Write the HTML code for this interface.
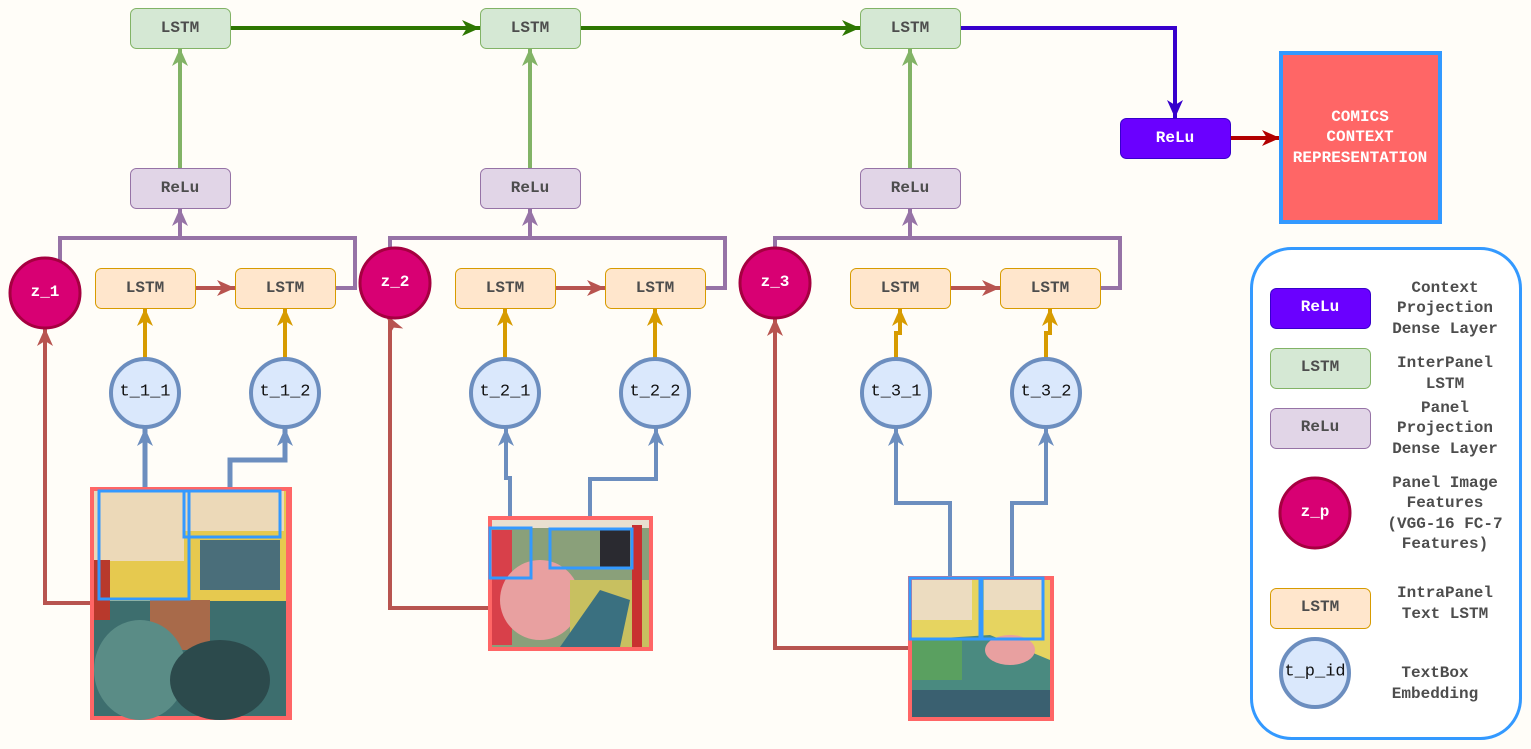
<!DOCTYPE html>
<html><head><meta charset="utf-8"><style>
html,body{margin:0;padding:0;background:#fffdf8;}
svg{display:block;}
.b{font-family:"Liberation Mono",monospace;font-weight:bold;font-size:16px;fill:#4d4d4d;text-anchor:middle;dominant-baseline:central;}
.w{fill:#fff;}
.t{font-family:"Liberation Mono",monospace;font-size:17px;fill:#111;text-anchor:middle;dominant-baseline:central;}
.lg{font-family:"Liberation Mono",monospace;font-weight:bold;font-size:16px;fill:#4d4d4d;text-anchor:middle;}
</style></head><body>
<svg width="1531" height="749" viewBox="0 0 1531 749" xmlns="http://www.w3.org/2000/svg">
<defs>
<marker id="mg" markerUnits="userSpaceOnUse" markerWidth="20" markerHeight="20" refX="18" refY="10" orient="auto"><path d="M0,2 L18,10 L0,18 L5,10 z" fill="#2d7600"/></marker>
<marker id="ml" markerUnits="userSpaceOnUse" markerWidth="20" markerHeight="20" refX="18" refY="10" orient="auto"><path d="M0,2 L18,10 L0,18 L5,10 z" fill="#82b366"/></marker>
<marker id="mp" markerUnits="userSpaceOnUse" markerWidth="20" markerHeight="20" refX="18" refY="10" orient="auto"><path d="M0,2 L18,10 L0,18 L5,10 z" fill="#9673a6"/></marker>
<marker id="mv" markerUnits="userSpaceOnUse" markerWidth="20" markerHeight="20" refX="18" refY="10" orient="auto"><path d="M0,2 L18,10 L0,18 L5,10 z" fill="#3700cc"/></marker>
<marker id="mr" markerUnits="userSpaceOnUse" markerWidth="20" markerHeight="20" refX="18" refY="10" orient="auto"><path d="M0,2 L18,10 L0,18 L5,10 z" fill="#b20000"/></marker>
<marker id="mb" markerUnits="userSpaceOnUse" markerWidth="20" markerHeight="20" refX="18" refY="10" orient="auto"><path d="M0,2 L18,10 L0,18 L5,10 z" fill="#b85450"/></marker>
<marker id="mo" markerUnits="userSpaceOnUse" markerWidth="20" markerHeight="20" refX="18" refY="10" orient="auto"><path d="M0,2 L18,10 L0,18 L5,10 z" fill="#d79b00"/></marker>
<marker id="mt" markerUnits="userSpaceOnUse" markerWidth="20" markerHeight="20" refX="18" refY="10" orient="auto"><path d="M0,2 L18,10 L0,18 L5,10 z" fill="#6c8ebf"/></marker>
</defs>

<line x1="230" y1="28" x2="480" y2="28" stroke="#2d7600" stroke-width="4" marker-end="url(#mg)"/>
<line x1="580" y1="28" x2="860" y2="28" stroke="#2d7600" stroke-width="4" marker-end="url(#mg)"/>
<path d="M960,28 H1175 V118" fill="none" stroke="#3700cc" stroke-width="4" marker-end="url(#mv)"/>
<line x1="1230" y1="138" x2="1280" y2="138" stroke="#b20000" stroke-width="4" marker-end="url(#mr)"/>

<line x1="180" y1="168" x2="180" y2="48" stroke="#82b366" stroke-width="4" marker-end="url(#ml)"/>
<line x1="530" y1="168" x2="530" y2="48" stroke="#82b366" stroke-width="4" marker-end="url(#ml)"/>
<line x1="910" y1="168" x2="910" y2="48" stroke="#82b366" stroke-width="4" marker-end="url(#ml)"/>

<path d="M60,262 V238 H355 V288 H335" fill="none" stroke="#9673a6" stroke-width="4"/>
<line x1="180" y1="238" x2="180" y2="208" stroke="#9673a6" stroke-width="4" marker-end="url(#mp)"/>
<path d="M390,250 V238 H725 V288 H705" fill="none" stroke="#9673a6" stroke-width="4"/>
<line x1="530" y1="238" x2="530" y2="208" stroke="#9673a6" stroke-width="4" marker-end="url(#mp)"/>
<path d="M775,250 V238 H1120 V288 H1100" fill="none" stroke="#9673a6" stroke-width="4"/>
<line x1="910" y1="238" x2="910" y2="208" stroke="#9673a6" stroke-width="4" marker-end="url(#mp)"/>

<rect x="130.5" y="8.5" width="100" height="40" rx="6" fill="#d5e8d4" stroke="#82b366"/><text class="b" x="180" y="28">LSTM</text>
<rect x="480.5" y="8.5" width="100" height="40" rx="6" fill="#d5e8d4" stroke="#82b366"/><text class="b" x="530" y="28">LSTM</text>
<rect x="860.5" y="8.5" width="100" height="40" rx="6" fill="#d5e8d4" stroke="#82b366"/><text class="b" x="910" y="28">LSTM</text>
<rect x="130.5" y="168.5" width="100" height="40" rx="6" fill="#e1d5e7" stroke="#9673a6"/><text class="b" x="180" y="188">ReLu</text>
<rect x="480.5" y="168.5" width="100" height="40" rx="6" fill="#e1d5e7" stroke="#9673a6"/><text class="b" x="530" y="188">ReLu</text>
<rect x="860.5" y="168.5" width="100" height="40" rx="6" fill="#e1d5e7" stroke="#9673a6"/><text class="b" x="910" y="188">ReLu</text>
<rect x="1120.5" y="118.5" width="110" height="40" rx="6" fill="#6a00ff" stroke="#3700cc"/><text class="b w" x="1175" y="138">ReLu</text>
<rect x="1281" y="53" width="159" height="169" fill="#ff6666" stroke="#3399ff" stroke-width="4"/>
<text class="b w" x="1360" y="117">COMICS</text><text class="b w" x="1360" y="137">CONTEXT</text><text class="b w" x="1360" y="158">REPRESENTATION</text>

<path d="M90,603 H45 V328" fill="none" stroke="#b85450" stroke-width="4" marker-end="url(#mb)"/>
<path d="M488,608 H390 V320 L388,316" fill="none" stroke="#b85450" stroke-width="4" marker-end="url(#mb)"/>
<path d="M909,648 H775 V318" fill="none" stroke="#b85450" stroke-width="4" marker-end="url(#mb)"/>

<line x1="195" y1="288" x2="235" y2="288" stroke="#b85450" stroke-width="4" marker-end="url(#mb)"/>
<line x1="555" y1="288" x2="605" y2="288" stroke="#b85450" stroke-width="4" marker-end="url(#mb)"/>
<line x1="950" y1="288" x2="1000" y2="288" stroke="#b85450" stroke-width="4" marker-end="url(#mb)"/>

<line x1="145" y1="358" x2="145" y2="308" stroke="#d79b00" stroke-width="4" marker-end="url(#mo)"/>
<line x1="285" y1="358" x2="285" y2="308" stroke="#d79b00" stroke-width="4" marker-end="url(#mo)"/>
<line x1="505" y1="358" x2="505" y2="308" stroke="#d79b00" stroke-width="4" marker-end="url(#mo)"/>
<line x1="655" y1="358" x2="655" y2="308" stroke="#d79b00" stroke-width="4" marker-end="url(#mo)"/>
<path d="M896,358 V333 H900 V308" fill="none" stroke="#d79b00" stroke-width="4" marker-end="url(#mo)"/>
<path d="M1046,358 V333 H1050 V308" fill="none" stroke="#d79b00" stroke-width="4" marker-end="url(#mo)"/>

<line x1="145" y1="487" x2="145" y2="428" stroke="#6c8ebf" stroke-width="5" marker-end="url(#mt)"/>
<path d="M230,487 V460 H285 V428" fill="none" stroke="#6c8ebf" stroke-width="5" marker-end="url(#mt)"/>
<path d="M510,528 V478 H506 V428" fill="none" stroke="#6c8ebf" stroke-width="4" marker-end="url(#mt)"/>
<path d="M590,528 V479 H656 V428" fill="none" stroke="#6c8ebf" stroke-width="4" marker-end="url(#mt)"/>
<path d="M950,577 V503 H896 V428" fill="none" stroke="#6c8ebf" stroke-width="4" marker-end="url(#mt)"/>
<path d="M1012,577 V503 H1046 V428" fill="none" stroke="#6c8ebf" stroke-width="4" marker-end="url(#mt)"/>

<rect x="95.5" y="268.5" width="100" height="40" rx="6" fill="#ffe6cc" stroke="#d79b00"/><text class="b" x="145" y="288">LSTM</text>
<rect x="235.5" y="268.5" width="100" height="40" rx="6" fill="#ffe6cc" stroke="#d79b00"/><text class="b" x="285" y="288">LSTM</text>
<rect x="455.5" y="268.5" width="100" height="40" rx="6" fill="#ffe6cc" stroke="#d79b00"/><text class="b" x="505" y="288">LSTM</text>
<rect x="605.5" y="268.5" width="100" height="40" rx="6" fill="#ffe6cc" stroke="#d79b00"/><text class="b" x="655" y="288">LSTM</text>
<rect x="850.5" y="268.5" width="100" height="40" rx="6" fill="#ffe6cc" stroke="#d79b00"/><text class="b" x="900" y="288">LSTM</text>
<rect x="1000.5" y="268.5" width="100" height="40" rx="6" fill="#ffe6cc" stroke="#d79b00"/><text class="b" x="1050" y="288">LSTM</text>

<circle cx="45" cy="293" r="35" fill="#d80073" stroke="#a50040" stroke-width="3"/><text class="b w" x="45" y="292">z_1</text>
<circle cx="395" cy="283" r="35" fill="#d80073" stroke="#a50040" stroke-width="3"/><text class="b w" x="395" y="282">z_2</text>
<circle cx="775" cy="283" r="35" fill="#d80073" stroke="#a50040" stroke-width="3"/><text class="b w" x="775" y="282">z_3</text>

<g fill="#dae8fc" stroke="#6c8ebf" stroke-width="4">
<circle cx="145" cy="393" r="34"/><circle cx="285" cy="393" r="34"/>
<circle cx="505" cy="393" r="34"/><circle cx="655" cy="393" r="34"/>
<circle cx="896" cy="393" r="34"/><circle cx="1046" cy="393" r="34"/>
</g>
<text class="t" x="145" y="392">t_1_1</text><text class="t" x="285" y="392">t_1_2</text>
<text class="t" x="505" y="392">t_2_1</text><text class="t" x="655" y="392">t_2_2</text>
<text class="t" x="896" y="392">t_3_1</text><text class="t" x="1046" y="392">t_3_2</text>

<!-- comic panel 1 -->
<rect x="90" y="487" width="202" height="233" fill="#ff6666"/>
<rect x="94" y="491" width="192" height="225" fill="#3d6e6e"/>
<rect x="94" y="491" width="192" height="110" fill="#e6c94f"/>
<rect x="94" y="491" width="90" height="70" fill="#ecd9b8"/>
<rect x="184" y="491" width="100" height="40" fill="#ecd9b8"/>
<rect x="94" y="560" width="16" height="60" fill="#b8392c"/>
<rect x="150" y="600" width="60" height="50" fill="#a86a4a"/>
<rect x="200" y="540" width="80" height="50" fill="#4a6e7a"/>
<ellipse cx="140" cy="670" rx="46" ry="50" fill="#5a8c86"/>
<ellipse cx="220" cy="680" rx="50" ry="40" fill="#2c4a4c"/>
<rect x="99" y="491" width="90" height="108" fill="none" stroke="#3399ff" stroke-width="3"/>
<rect x="184" y="491" width="96" height="46" fill="none" stroke="#3399ff" stroke-width="3"/>

<!-- comic panel 2 -->
<rect x="488" y="516" width="165" height="135" fill="#ff6666"/>
<rect x="492" y="520" width="157" height="127" fill="#8aa07a"/>
<rect x="492" y="520" width="157" height="8" fill="#e8e0d0"/>
<rect x="492" y="530" width="20" height="115" fill="#d8404a"/>
<ellipse cx="540" cy="600" rx="40" ry="40" fill="#e8a0a0"/>
<rect x="570" y="580" width="79" height="67" fill="#c8c060"/>
<path d="M560,647 L600,590 L630,600 L620,647 z" fill="#3a7080"/>
<rect x="600" y="530" width="30" height="38" fill="#2a2a30"/>
<rect x="632" y="525" width="10" height="122" fill="#c83030"/>
<rect x="490" y="528" width="41" height="50" fill="none" stroke="#3399ff" stroke-width="3"/>
<rect x="550" y="529" width="82" height="39" fill="none" stroke="#3399ff" stroke-width="3"/>

<!-- comic panel 3 -->
<rect x="908" y="576" width="146" height="145" fill="#ff6666"/>
<rect x="912" y="580" width="138" height="137" fill="#e6d460"/>
<rect x="912" y="580" width="60" height="40" fill="#ecdcc0"/>
<rect x="984" y="580" width="58" height="30" fill="#ecdcc0"/>
<path d="M912,640 L990,635 L1050,660 L1050,717 L912,717 z" fill="#4a8a80"/>
<rect x="912" y="640" width="50" height="40" fill="#5aa060"/>
<ellipse cx="1010" cy="650" rx="25" ry="15" fill="#e8a0a0"/>
<rect x="912" y="690" width="138" height="27" fill="#3a6070"/>
<rect x="910" y="578" width="70" height="61" fill="none" stroke="#3399ff" stroke-width="3"/>
<rect x="982" y="578" width="61" height="61" fill="none" stroke="#3399ff" stroke-width="3"/>

<!-- legend -->
<rect x="1251.5" y="248.5" width="269" height="490" rx="40" fill="#ffffff" stroke="#3399ff" stroke-width="3"/>
<rect x="1270.5" y="288.5" width="100" height="40" rx="6" fill="#6a00ff" stroke="#3700cc"/><text class="b w" x="1320" y="307">ReLu</text>
<rect x="1270.5" y="348.5" width="100" height="40" rx="6" fill="#d5e8d4" stroke="#82b366"/><text class="b" x="1320" y="367">LSTM</text>
<rect x="1270.5" y="408.5" width="100" height="40" rx="6" fill="#e1d5e7" stroke="#9673a6"/><text class="b" x="1320" y="427">ReLu</text>
<circle cx="1315" cy="513" r="35" fill="#d80073" stroke="#a50040" stroke-width="3"/><text class="b w" x="1315" y="512">z_p</text>
<rect x="1270.5" y="588.5" width="100" height="40" rx="6" fill="#ffe6cc" stroke="#d79b00"/><text class="b" x="1320" y="607">LSTM</text>
<circle cx="1315" cy="673" r="34" fill="#dae8fc" stroke="#6c8ebf" stroke-width="4"/><text class="t" x="1315" y="672">t_p_id</text>

<text class="lg" x="1445" y="292">Context</text>
<text class="lg" x="1445" y="312">Projection</text>
<text class="lg" x="1445" y="333">Dense Layer</text>
<text class="lg" x="1445" y="367">InterPanel</text>
<text class="lg" x="1445" y="388">LSTM</text>
<text class="lg" x="1445" y="412">Panel</text>
<text class="lg" x="1445" y="432">Projection</text>
<text class="lg" x="1445" y="453">Dense Layer</text>
<text class="lg" x="1445" y="487">Panel Image</text>
<text class="lg" x="1445" y="507">Features</text>
<text class="lg" x="1445" y="528">(VGG-16 FC-7</text>
<text class="lg" x="1445" y="548">Features)</text>
<text class="lg" x="1445" y="597">IntraPanel</text>
<text class="lg" x="1445" y="618">Text LSTM</text>
<text class="lg" x="1435" y="677">TextBox</text>
<text class="lg" x="1435" y="698">Embedding</text>
</svg>
</body></html>
